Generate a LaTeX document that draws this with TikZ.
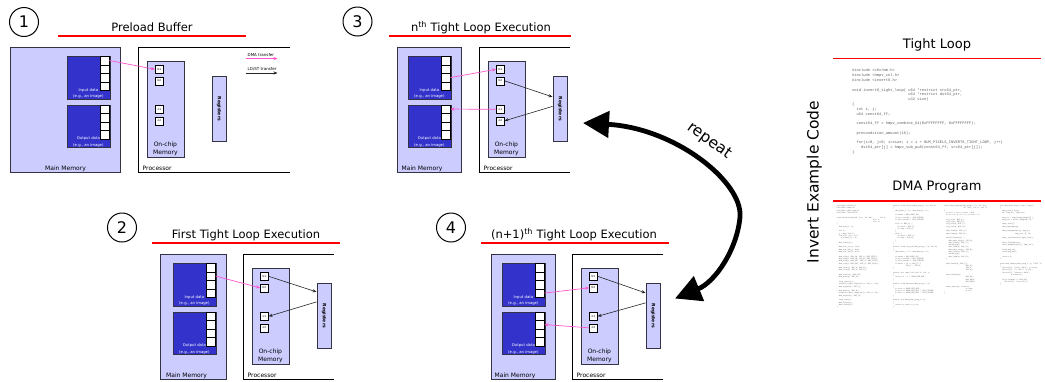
\documentclass[tikz,border=0pt]{standalone}
\usepackage{fontspec}
\setmainfont{DejaVu Sans}
\setmonofont{Liberation Mono}
\usetikzlibrary{arrows.meta,calc}
\definecolor{lav}{HTML}{CCCCFF}
\definecolor{dblue}{HTML}{3333CC}
\definecolor{bord}{HTML}{333344}
\definecolor{dmapink}{HTML}{FF55CC}
\definecolor{codegray}{HTML}{606060}
\newcommand\codeind[1]{\hspace*{#1\fontcharwd\font`x}}
\tikzset{
  mem/.style={draw=bord, fill=lav, line width=0.8pt, anchor=north west, inner sep=0pt},
  datab/.style={draw=bord, fill=dblue, line width=0.8pt, anchor=north west, inner sep=0pt, minimum width=43pt, minimum height=42.5pt},
  cell/.style={draw=black, fill=white, line width=0.6pt, anchor=north east, inner sep=0pt, minimum width=8.5pt, minimum height=8.5pt},
  regsq/.style={draw=black, fill=white, line width=0.6pt, anchor=north west, inner sep=0pt, minimum width=8pt, minimum height=8pt, font=\fontsize{2.8}{3}\selectfont},
  datalbl/.style={text=white, font=\fontsize{3.8}{6.3}\selectfont, align=center, inner sep=0.6pt, anchor=south},
  memlbl/.style={font=\fontsize{6}{8}\selectfont, inner sep=0pt, anchor=base},
  oclbl/.style={font=\fontsize{6}{8.5}\selectfont, align=center, inner sep=1.5pt, anchor=south},
  reglbl/.style={font=\bfseries\fontsize{4.5}{5}\selectfont, rotate=-90, inner sep=0pt},
  title/.style={font=\fontsize{11.5}{13}\selectfont, anchor=base, inner sep=0pt},
  bigtitle/.style={font=\fontsize{13}{15}\selectfont, anchor=base, inner sep=0pt},
  redline/.style={draw=red, line width=2pt},
  procline/.style={draw=black, line width=1pt},
  numcirc/.style={draw=black, circle, line width=1pt, minimum size=29pt, inner sep=0pt, font=\fontsize{16}{18}\selectfont},
  dmaarrow/.style={draw=dmapink, line width=0.7pt, -{Stealth[length=4pt,width=3.2pt]}},
  ldarrow/.style={draw=black!85, line width=0.6pt, -{Stealth[length=4pt,width=3.2pt]}},
  repeatarrow/.style={line width=4.8pt, {Triangle[length=26pt,width=26pt]}-{Triangle[length=26pt,width=26pt]}},
  legendlbl/.style={font=\fontsize{4}{5}\selectfont, anchor=base west, inner sep=0pt},
  code/.style={text=codegray, font=\ttfamily\fontsize{3.75}{4.8}\selectfont, align=left, anchor=north west, inner sep=0pt},
  dmacode/.style={text=codegray, font=\ttfamily\fontsize{1.8}{2.3}\selectfont, align=left, anchor=north west, inner sep=0pt},
}
% #1 prefix, #2 main memory left, #3 main memory right, #4 processor left,
% #5 processor right, #6 top, #7 x of the Main Memory label
\newcommand\drawpanel[7]{%
  \node[mem, minimum width={(#3-#2)*1pt}, minimum height=125pt] (#1mm) at (#2,#6) {};
  \node[memlbl] (#1mmlbl) at (#7,{#6+123}) {Main Memory};
  \node[datab] (#1in) at ({#3-53.5},{#6+9}) {};
  \node[datab] (#1out) at ({#3-53.5},{#6+57.5}) {};
  \foreach \k in {1,2,3,4}{%
    \node[cell] (#1in\k) at ({#3-10.5},{#6+9+8.5*(\k-1)}) {};
    \node[cell] (#1out\k) at ({#3-10.5},{#6+57.5+8.5*(\k-1)}) {};
  }
  \node[datalbl] (#1inlbl) at (#1in.south) {Input data\\(e.g., an image)};
  \node[datalbl] (#1outlbl) at (#1out.south) {Output data\\(e.g., an image)};
  \draw[procline] (#5,#6) -- (#4,#6) -- (#4,{#6+125}) -- (#5,{#6+125});
  \node[memlbl, anchor=base west] (#1proclbl) at ({#4+4.5},{#6+123}) {Processor};
  \node[mem, minimum width=37pt, minimum height=96pt] (#1oc) at ({#4+8.5},{#6+14}) {};
  \node[oclbl] (#1oclbl) at (#1oc.south) {On-chip\\Memory};
  \node[regsq] (#1b1) at ({#4+17},{#6+18}) {b1};
  \node[regsq] (#1b2) at ({#4+17},{#6+29.5}) {b2};
  \node[regsq] (#1o1) at ({#4+17},{#6+58}) {o1};
  \node[regsq] (#1o2) at ({#4+17},{#6+69.5}) {o2};
  \node[mem, minimum width=14.5pt, minimum height=65pt] (#1reg) at ({#4+73.5},{#6+29}) {};
  \node[reglbl] (#1reglbl) at (#1reg.center) {Registers};
}
\begin{document}
\begin{tikzpicture}[x=1pt,y=-1pt]
\useasboundingbox (0,0) rectangle (1045,381);
\fill[white] (0,0) rectangle (1045,381);
\clip (0,0) rectangle (1045,381);

% ---------- panel 1 ----------
\node[numcirc] (c1) at (24,22) {1};
\node[title] (t1) at (152,31.5) {Preload Buffer};
\draw[redline] (58,35.7) -- (246,35.7);
\drawpanel{p1}{10}{120}{138}{290}{47}{65.5}
\node[legendlbl] (lgdma) at (247.5,56.3) {DMA transfer};
\coordinate (lgdmaA) at (246,58.6);
\coordinate (lgdmaB) at (277.5,58.6);
\draw[dmaarrow] (lgdmaA) -- (lgdmaB);
\node[legendlbl] (lgld) at (247.5,70) {LD/ST transfer};
\coordinate (lgldA) at (246,73);
\coordinate (lgldB) at (277.5,73);
\draw[ldarrow] (lgldA) -- (lgldB);
\draw[dmaarrow] (p1in1.east) -- (p1b1.west);

% ---------- panel 3 ----------
\node[numcirc] (c3) at (357.5,21.5) {3};
\node[title] (t3) at (481,31.5) {n\textsuperscript{th} Tight Loop Execution};
\draw[redline] (388.5,35.7) -- (571,35.7);
\drawpanel{p3}{397}{461}{479}{570}{47}{422}
\draw[dmaarrow] (p3in3.east) -- (p3b1.west);
\draw[ldarrow] (p3b2.east) -- ([yshift=12pt]p3reg.west);
\draw[ldarrow] ([yshift=2.5pt]p3reg.west) -- (p3o2.east);
\draw[dmaarrow] (p3o1.west) -- (p3out1.east);

% ---------- panel 2 ----------
\node[numcirc] (c2) at (122,227.5) {2};
\node[title] (t2) at (246,238.7) {First Tight Loop Execution};
\draw[redline] (151.7,243.3) -- (340,243.3);
\drawpanel{p2}{160}{226}{243}{334}{254}{186.5}
\draw[dmaarrow] (p2in2.east) -- (p2b2.west);
\draw[ldarrow] (p2b1.east) -- ([yshift=24pt]p2reg.west);
\draw[ldarrow] ([yshift=14pt]p2reg.west) -- (p2o1.east);

% ---------- panel 4 ----------
\node[numcirc] (c4) at (451,227.5) {4};
\node[title] (t4) at (574,238.7) {(n+1)\textsuperscript{th} Tight Loop Execution};
\draw[redline] (481,243.3) -- (669,243.3);
\drawpanel{p4}{491}{555}{572}{663}{254}{515}
\draw[dmaarrow] (p4in4.east) -- (p4b2.west);
\draw[ldarrow] (p4b1.east) -- ([yshift=23pt]p4reg.west);
\draw[ldarrow] ([yshift=13pt]p4reg.west) -- (p4o1.east);
\draw[dmaarrow] (p4o2.west) -- (p4out2.east);

% ---------- repeat arrow ----------
\coordinate (rtop) at (583,123);
\coordinate (rbot) at (675,298.5);
\draw[repeatarrow] (rtop) .. controls (675,128) and (743,182) .. (740,217)
  .. controls (737,250) and (715,282) .. (rbot);
\node[font=\fontsize{15.5}{17}\selectfont, rotate=-36, inner sep=0pt] (rep) at (709,141) {repeat};

% ---------- example code ----------
\node[font=\fontsize{15.5}{17}\selectfont, rotate=90, anchor=base, inner sep=0pt] (iec) at (818.5,182) {Invert Example Code};
\node[bigtitle] (ttl) at (937,48) {Tight Loop};
\draw[redline, line width=1.6pt] (833,58.3) -- (1041,58.3);
\node[code] (tlcode) at (852,69) {%
\#include <c6x/mm.h>\\
\#include <hmpv\_inl.h>\\
\#include <invert8.h>\\
\mbox{}\\
void invert8\_tight\_loop( u64 *restrict src64\_ptr,\\
\codeind{25}u64 *restrict dst64\_ptr,\\
\codeind{25}u32 size)\\
\{\\
\codeind{2}int i, j;\\
\codeind{2}u64 const64\_ff;\\
\mbox{}\\
\codeind{2}const64\_ff = hmpv\_combine\_64(0xFFFFFFFF, 0xFFFFFFFF);\\
\mbox{}\\
\codeind{2}precondition\_amount(16);\\
\mbox{}\\
\codeind{2}for(i=0, j=0; i<size; i = i + NUM\_PIXELS\_INVERT8\_TIGHT\_LOOP, j++)\\
\codeind{4}dst64\_ptr[j] = hmpv\_sub\_pu8(const64\_ff, src64\_ptr[j]);\\
\}};

\node[bigtitle] (tdma) at (937,190.7) {DMA Program};
\draw[redline, line width=1.6pt] (833,200.7) -- (1041,200.7);

\node[dmacode] (dma1) at (836.5,205) {%
\#include <stdio.h>\\
\#include <hmpv.h>\\
\#include <dma\_prog.h>\\
\#include "invert8.h"\\
\mbox{}\\
void invert8\_dma(u8 *src, u8 *dst,\codeind{6}int w,\\
\codeind{34}int h,\\
\codeind{34}int n)\\
\{\\
\codeind{2}dma\_prog\_t *p;\\
\mbox{}\\
\codeind{2}int i;\\
\codeind{2}p = dma\_init();\\
\codeind{2}for(i=0; i<n; i++)\\
\codeind{4}p->chan[i] = 0;\\
\mbox{}\\
\codeind{2}dma\_reset(p);\\
\mbox{}\\
\codeind{2}dma\_set\_src(p, src);\\
\codeind{2}dma\_set\_dst(p, dst);\\
\codeind{2}dma\_set\_len(p, w*h);\\
\mbox{}\\
\codeind{2}dma\_cfg(p, DMA\_IN, BUF\_A, BUF\_SIZE);\\
\codeind{2}dma\_cfg(p, DMA\_IN, BUF\_B, BUF\_SIZE);\\
\codeind{2}dma\_cfg(p, DMA\_OUT, BUF\_C, BUF\_SIZE);\\
\codeind{2}dma\_cfg(p, DMA\_OUT, BUF\_D, BUF\_SIZE);\\
\mbox{}\\
\codeind{2}dma\_link(p, BUF\_A, BUF\_B);\\
\codeind{2}dma\_link(p, BUF\_C, BUF\_D);\\
\mbox{}\\
\codeind{2}dma\_start(p, DMA\_IN);\\
\codeind{2}dma\_wait(p, BUF\_A);\\
\mbox{}\\
\codeind{2}loop\_start(p);\\
\codeind{2}invert8\_tight\_loop(buf\_a, buf\_c, 64);\\
\codeind{2}dma\_signal(p, BUF\_C);\\
\mbox{}\\
\codeind{2}dma\_wait(p, BUF\_B);\\
\codeind{2}invert8\_tight\_loop(buf\_b, buf\_d, 64);\\
\codeind{2}dma\_signal(p, BUF\_D);\\
\mbox{}\\
\codeind{2}loop\_end(p);\\
\codeind{2}dma\_flush(p);\\
\codeind{2}dma\_close(p);\\
\}};

\node[dmacode] (dma2) at (893,205) {%
static void cfg\_in(dma\_prog\_t *p, int b)\\
\{\\
\codeind{2}dma\_desc\_t *d = dma\_desc(p, b);\\
\mbox{}\\
\codeind{2}d->mode = DMA\_MODE\_2D;\\
\codeind{2}d->src\_stride = IMG\_STRIDE;\\
\codeind{2}d->dst\_stride = BUF\_STRIDE;\\
\mbox{}\\
\codeind{2}if(b == BUF\_A) \{\\
\codeind{4}d->next = BUF\_B;\\
\codeind{4}d->sig = SIG\_A;\\
\codeind{2}\}\\
\codeind{2}else \{\\
\codeind{4}d->next = BUF\_A;\\
\codeind{4}d->sig = SIG\_B;\\
\codeind{2}\}\\
\}\\
\mbox{}\\
static void cfg\_out(dma\_prog\_t *p, int b)\\
\{\\
\codeind{2}dma\_desc\_t *d = dma\_desc(p, b);\\
\mbox{}\\
\codeind{2}d->mode = DMA\_MODE\_2D;\\
\codeind{2}d->src\_stride = BUF\_STRIDE;\\
\codeind{2}d->dst\_stride = IMG\_STRIDE;\\
\codeind{2}d->wait = (b == BUF\_C) ?\\
\codeind{12}SIG\_C : SIG\_D;\\
\}\\
\mbox{}\\
static int rows\_left(int h, int r)\\
\{\\
\codeind{2}return h - r * ROWS\_PER\_BUF;\\
\}\\
\mbox{}\\
static void advance(dma\_prog\_t *p)\\
\{\\
\codeind{2}p->row += ROWS\_PER\_BUF;\\
\codeind{2}p->src += ROWS\_PER\_BUF * IMG\_STRIDE;\\
\codeind{2}p->dst += ROWS\_PER\_BUF * IMG\_STRIDE;\\
\}\\
\mbox{}\\
static int done(dma\_prog\_t *p)\\
\{\\
\codeind{2}return p->row >= p->h;\\
\}};

\node[dmacode] (dma3) at (944,205) {%
void dma\_program(dma\_prog\_t *p, u8 *src,\\
\codeind{18}u8 *dst, int w, int h)\\
\{\\
\codeind{2}p->src = src; p->dst = dst;\\
\codeind{2}p->w = w; p->h = h; p->row = 0;\\
\mbox{}\\
\codeind{2}cfg\_in(p, BUF\_A);\\
\codeind{2}cfg\_in(p, BUF\_B);\\
\codeind{2}cfg\_out(p, BUF\_C);\\
\codeind{2}cfg\_out(p, BUF\_D);\\
\mbox{}\\
\codeind{2}dma\_load(p, BUF\_A);\\
\codeind{2}dma\_load(p, BUF\_B);\\
\mbox{}\\
\codeind{2}while(!done(p)) \{\\
\codeind{4}dma\_wait\_sig(p, SIG\_A);\\
\codeind{4}dma\_kick(p, BUF\_C);\\
\codeind{4}advance(p);\\
\codeind{4}dma\_load(p, BUF\_A);\\
\codeind{4}dma\_wait\_sig(p, SIG\_B);\\
\codeind{4}dma\_kick(p, BUF\_D);\\
\codeind{4}advance(p);\\
\codeind{4}dma\_load(p, BUF\_B);\\
\codeind{2}\}\\
\mbox{}\\
\codeind{2}dma\_drain(p, BUF\_C);\\
\codeind{20}BUF\_D);\\
\codeind{20}SIG\_C,\\
\codeind{20}SIG\_D);\\
\mbox{}\\
\codeind{2}dma\_status(p);\\
\codeind{20}DMA\_OK,\\
\codeind{20}DMA\_BUSY,\\
\codeind{20}DMA\_ERR);\\
\mbox{}\\
\codeind{2}dma\_report(p, stdout);\\
\codeind{20}p->row,\\
\codeind{20}p->h);\\
\}};

\node[dmacode] (dma4) at (1000,205) {%
int main(int argc, char **argv)\\
\{\\
\codeind{2}dma\_prog\_t prog;\\
\codeind{2}u8 *img\_in, *img\_out;\\
\mbox{}\\
\codeind{2}img\_in = load\_image(argv[1]);\\
\codeind{2}img\_out = alloc\_image(W, H);\\
\mbox{}\\
\codeind{2}hmpv\_init();\\
\codeind{2}dma\_open(\&prog);\\
\mbox{}\\
\codeind{2}dma\_program(\&prog, img\_in,\\
\codeind{14}img\_out, W, H);\\
\mbox{}\\
\codeind{2}hmpv\_run(invert8\_tight\_loop);\\
\mbox{}\\
\codeind{2}dma\_close(\&prog);\\
\codeind{2}save\_image(argv[2], img\_out);\\
\mbox{}\\
\codeind{2}free(img\_in);\\
\codeind{2}free(img\_out);\\
\mbox{}\\
\codeind{2}return 0;\\
\}\\
\mbox{}\\
void dma\_report(dma\_prog\_t *p, FILE *f)\\
\{\\
\codeind{2}fprintf(f, "rows: \%d\textbackslash n", p->row);\\
\codeind{2}fprintf(f, "h: \%d\textbackslash n", p->h);\\
\codeind{2}fprintf(f, "status: \%d\textbackslash n",\\
\codeind{10}p->status);\\
\mbox{}\\
\codeind{2}if(p->status != DMA\_OK)\\
\codeind{4}fprintf(f, "error\textbackslash n");\\
\}};
\end{tikzpicture}
\end{document}
